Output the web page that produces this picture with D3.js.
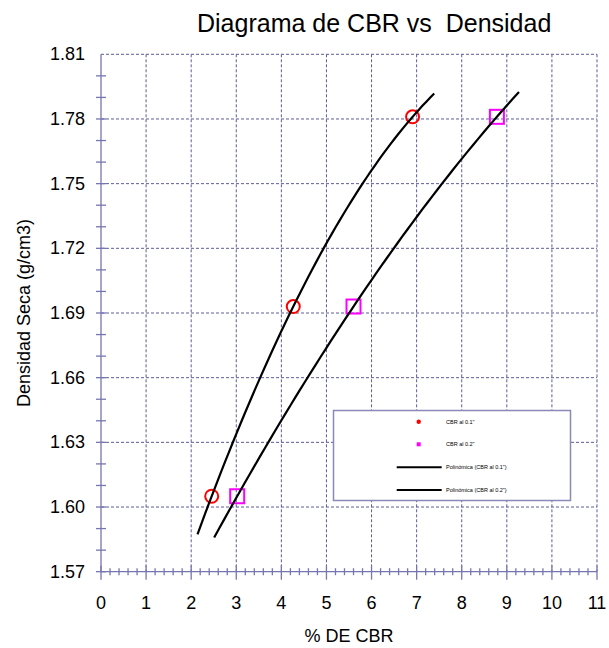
<!DOCTYPE html>
<html><head><meta charset="utf-8">
<script src="https://cdn.jsdelivr.net/npm/d3@7"></script>
<style>body{margin:0;background:#fff}svg{display:block;font-family:"Liberation Sans",Arial,sans-serif}</style>
</head><body><svg id="c" width="609" height="648"></svg>
<script>
// data
const cbr01 = [2.455, 4.264, 6.91];
const cbr02 = [3.02, 5.6, 8.78];
const density = [1.605, 1.693, 1.781];
const trend01Range = [2.14, 7.39];
const trend02Range = [2.51, 9.27];
const xTicks = [0,1,2,3,4,5,6,7,8,9,10,11];
const yTicks = [1.57,1.60,1.63,1.66,1.69,1.72,1.75,1.78,1.81];
const legendLabels = ['CBR al 0.1"', 'CBR al 0.2"', 'Polinómica (CBR al 0.1")', 'Polinómica (CBR al 0.2")'];

const svg = d3.select('#c');
const x = d3.scaleLinear().domain([0,11]).range([101,597]);
const y = d3.scaleLinear().domain([1.57,1.81]).range([571.7,54.3]);
const gridC = '#5c5c9c', axisC = '#7676b0';

// gridlines
svg.append('g').selectAll('line').data(xTicks.slice(1)).join('line')
  .attr('x1',d=>x(d)).attr('x2',d=>x(d)).attr('y1',y(1.81)).attr('y2',y(1.57))
  .attr('stroke',gridC).attr('stroke-width',1).attr('stroke-dasharray','3,2');
svg.append('g').selectAll('line').data(yTicks.slice(1)).join('line')
  .attr('x1',x(0)).attr('x2',x(11)).attr('y1',d=>y(d)).attr('y2',d=>y(d))
  .attr('stroke',gridC).attr('stroke-width',1).attr('stroke-dasharray','3,2');

// axes with crossing ticks
const xMinor = d3.range(0,55).map(i=>i*0.2).filter(v=>Math.abs(v-Math.round(v))>1e-6);
const yMinor = d3.range(0,24).map(i=>1.57+i*0.01);
const ax = svg.append('g').attr('stroke',axisC).attr('stroke-width',1.3);
ax.append('line').attr('x1',x(0)).attr('x2',x(11)).attr('y1',y(1.57)).attr('y2',y(1.57));
ax.append('line').attr('x1',x(0)).attr('x2',x(0)).attr('y1',y(1.57)).attr('y2',y(1.81));
ax.selectAll('.xm').data(xMinor).join('line').attr('x1',d=>x(d)).attr('x2',d=>x(d))
  .attr('y1',y(1.57)-3.5).attr('y2',y(1.57)+3.5);
ax.selectAll('.xM').data(xTicks).join('line').attr('x1',d=>x(d)).attr('x2',d=>x(d))
  .attr('y1',y(1.57)-6).attr('y2',y(1.57)+8);
ax.selectAll('.ym').data(yMinor).join('line').attr('y1',d=>y(d)).attr('y2',d=>y(d))
  .attr('x1',x(0)-5).attr('x2',x(0)+5);

// tick labels
svg.append('g').selectAll('text').data(xTicks).join('text')
  .attr('x',d=>x(d)).attr('y',609).attr('text-anchor','middle')
  .attr('font-size',18).attr('fill','#000').text(d=>d);
svg.append('g').selectAll('text').data(yTicks).join('text')
  .attr('x',85).attr('y',d=>y(d)+6).attr('text-anchor','end')
  .attr('font-size',18).attr('fill','#000').text(d=>d.toFixed(2));

// titles
svg.append('text').attr('x',197).attr('y',32).attr('text-anchor','start')
  .attr('font-size',25).text('Diagrama de CBR vs\u00a0 Densidad');
svg.append('text').attr('x',349).attr('y',642).attr('text-anchor','middle')
  .attr('font-size',18).text('% DE CBR');
svg.append('text').attr('transform','translate(30,313) rotate(-90)').attr('text-anchor','middle')
  .attr('font-size',18).text('Densidad Seca (g/cm3)');

// markers
svg.append('g').selectAll('circle').data(cbr01).join('circle')
  .attr('cx',d=>x(d)).attr('cy',(d,i)=>y(density[i])).attr('r',6.5)
  .attr('fill','none').attr('stroke','#ff0000').attr('stroke-width',2);
svg.append('g').selectAll('rect').data(cbr02).join('rect')
  .attr('x',d=>x(d)-7).attr('y',(d,i)=>y(density[i])-7).attr('width',14).attr('height',14)
  .attr('fill','none').attr('stroke','#ff00ff').attr('stroke-width',2);

// polynomial (order 2) trendlines, least squares fit of density on CBR
function polyFit(xs, ys){
  const n=xs.length; let S=[0,0,0,0,0], T=[0,0,0];
  for(let i=0;i<n;i++){for(let k=0;k<5;k++)S[k]+=Math.pow(xs[i],k);for(let k=0;k<3;k++)T[k]+=ys[i]*Math.pow(xs[i],k);}
  const A=[[S[0],S[1],S[2],T[0]],[S[1],S[2],S[3],T[1]],[S[2],S[3],S[4],T[2]]];
  for(let c=0;c<3;c++){for(let r=c+1;r<3;r++){const f=A[r][c]/A[c][c];for(let k=c;k<4;k++)A[r][k]-=f*A[c][k];}}
  const co=[0,0,0];
  for(let r=2;r>=0;r--){let s=A[r][3];for(let k=r+1;k<3;k++)s-=A[r][k]*co[k];co[r]=s/A[r][r];}
  return v=>co[0]+co[1]*v+co[2]*v*v;
}
const line = d3.line().x(d=>x(d[0])).y(d=>y(d[1]));
[[cbr01,trend01Range],[cbr02,trend02Range]].forEach(([xs,rg])=>{
  const f=polyFit(xs,density);
  const pts=d3.range(0,61).map(i=>{const v=rg[0]+(rg[1]-rg[0])*i/60;return [v,f(v)];});
  svg.append('path').attr('d',line(pts)).attr('fill','none').attr('stroke','#000').attr('stroke-width',2.2);
});

// legend
const lg = svg.append('g');
lg.append('rect').attr('x',333.5).attr('y',410.5).attr('width',237).attr('height',90)
  .attr('fill','#fff').attr('stroke','#8a8ab8').attr('stroke-width',1.5);
const ly=[421.7,444.3,467.3,490];
lg.append('circle').attr('cx',418.7).attr('cy',ly[0]).attr('r',2.2).attr('fill','#ff0000');
lg.append('rect').attr('x',416.7).attr('y',ly[1]-2).attr('width',4).attr('height',4).attr('fill','#ff00ff');
lg.append('line').attr('x1',396.7).attr('x2',441.7).attr('y1',ly[2]).attr('y2',ly[2]).attr('stroke','#000').attr('stroke-width',2);
lg.append('line').attr('x1',396.7).attr('x2',441.7).attr('y1',ly[3]).attr('y2',ly[3]).attr('stroke','#000').attr('stroke-width',2);
lg.selectAll('text').data(legendLabels).join('text')
  .attr('x',446).attr('y',(d,i)=>ly[i]+2).attr('font-size',5.5).attr('fill','#000').text(d=>d);
</script></body></html>
